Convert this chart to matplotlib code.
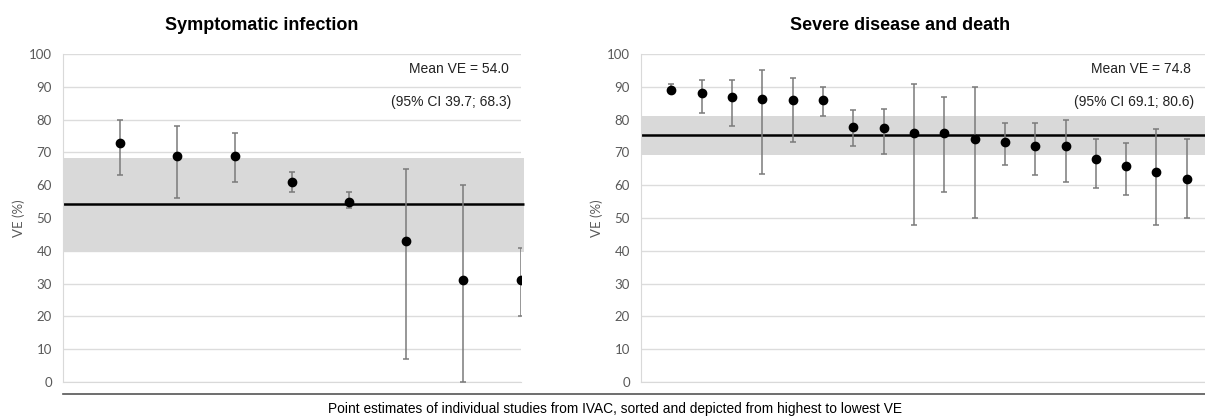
import numpy as np
import matplotlib.pyplot as plt
from matplotlib.lines import Line2D

# symptomatic infection (left)
sym_ve = [73, 69, 69, 61, 55, 43, 31, 31]
sym_lo = [63, 56, 61, 58, 53, 7, 0, 20]
sym_hi = [80, 78, 76, 64, 58, 65, 60, 41]
sym_mean = 54.3
sym_ci = (39.7, 68.3)
sym_txt = ["Mean VE = 54.0", "(95% CI 39.7; 68.3)"]

# severe disease and death (right)
sev_ve = [89, 88, 87, 86.3, 86, 86, 77.8, 77.5, 76, 76, 74, 73.2, 72, 72, 68, 66, 64, 62]
sev_lo = [88, 82, 78, 63.5, 73.3, 81, 72, 69.6, 48, 58, 50, 66.3, 63, 61, 59, 57, 48, 50]
sev_hi = [91, 92, 92, 95, 92.7, 90, 83, 83.2, 91, 87, 90, 79, 79, 80, 74, 73, 77, 74]
sev_mean = 75.4
sev_ci = (69.2, 81.2)
sev_txt = ["Mean VE = 74.8", "(95% CI 69.1; 80.6)"]

W, H = 1205, 417
fig = plt.figure(figsize=(W / 100, H / 100), dpi=100)

tickfont = 'Lato'
mainfont = 'Liberation Sans'
gray = '#595959'


def panel(rect, ve, lo, hi, mean, ci, txt, xmax, band_ext):
    ax = fig.add_axes(rect)
    x = np.arange(1, len(ve) + 1)
    ve = np.array(ve)
    yerr = [ve - np.array(lo), np.array(hi) - ve]
    ax.axhspan(ci[0], ci[1], xmin=0, xmax=band_ext, color='#d9d9d9', zorder=1, lw=0, clip_on=False)
    ax.axhline(mean, xmin=0, xmax=band_ext, color='black', lw=1.8, zorder=2,
               clip_on=False, solid_capstyle='butt')
    ax.errorbar(x, ve, yerr=yerr, fmt='o', color='black', ms=6,
                ecolor='#7a7a7a', elinewidth=1.1, capsize=2.5, capthick=1.1, zorder=3)
    ax.set_xlim(0, xmax)
    ax.set_ylim(0, 100)
    ax.set_yticks(range(0, 101, 10))
    ax.set_xticks([])
    ax.grid(axis='y', color='#dcdcdc', lw=1, zorder=0)
    ax.set_axisbelow(True)
    for s in ['top', 'right']:
        ax.spines[s].set_visible(False)
    ax.spines['left'].set_color('#d9d9d9')
    ax.spines['bottom'].set_color('#d9d9d9')
    ax.tick_params(axis='y', length=0, pad=8, labelcolor=gray, labelsize=9.5)
    for t in ax.get_yticklabels():
        t.set_fontfamily(tickfont)
    ax.set_ylabel('VE (%)', fontsize=9.5, color=gray, family=tickfont, labelpad=3)
    ax.text(0.975, 0.955, txt[0], transform=ax.transAxes, ha='right', va='center',
            fontsize=10, family=mainfont, color='#222222')
    ax.text(0.98, 0.855, txt[1], transform=ax.transAxes, ha='right', va='center',
            fontsize=10, family=mainfont, color='#222222')
    return ax


axL = panel([63 / W, 1 - 382 / H, 457.5 / W, 328 / H], sym_ve, sym_lo, sym_hi,
            sym_mean, sym_ci, sym_txt, 8, 1.008)
axR = panel([641 / W, 1 - 382 / H, 564 / W, 328 / H], sev_ve, sev_lo, sev_hi,
            sev_mean, sev_ci, sev_txt, 18.6, 1.0)

fig.text(262 / W, 1 - 25 / H, 'Symptomatic infection', ha='center', va='center',
         fontsize=13, fontweight='bold', family=mainfont)
fig.text(900 / W, 1 - 25 / H, 'Severe disease and death', ha='center', va='center',
         fontsize=13, fontweight='bold', family=mainfont)

fig.add_artist(Line2D([63 / W, 1.0], [1 - 394 / H, 1 - 394 / H], color='#555555', lw=1.2))
fig.text(615 / W, 1 - 409 / H,
         'Point estimates of individual studies from IVAC, sorted and depicted from highest to lowest VE',
         ha='center', va='center', fontsize=9.9, family=mainfont)

fig.savefig('out.png', dpi=100)
